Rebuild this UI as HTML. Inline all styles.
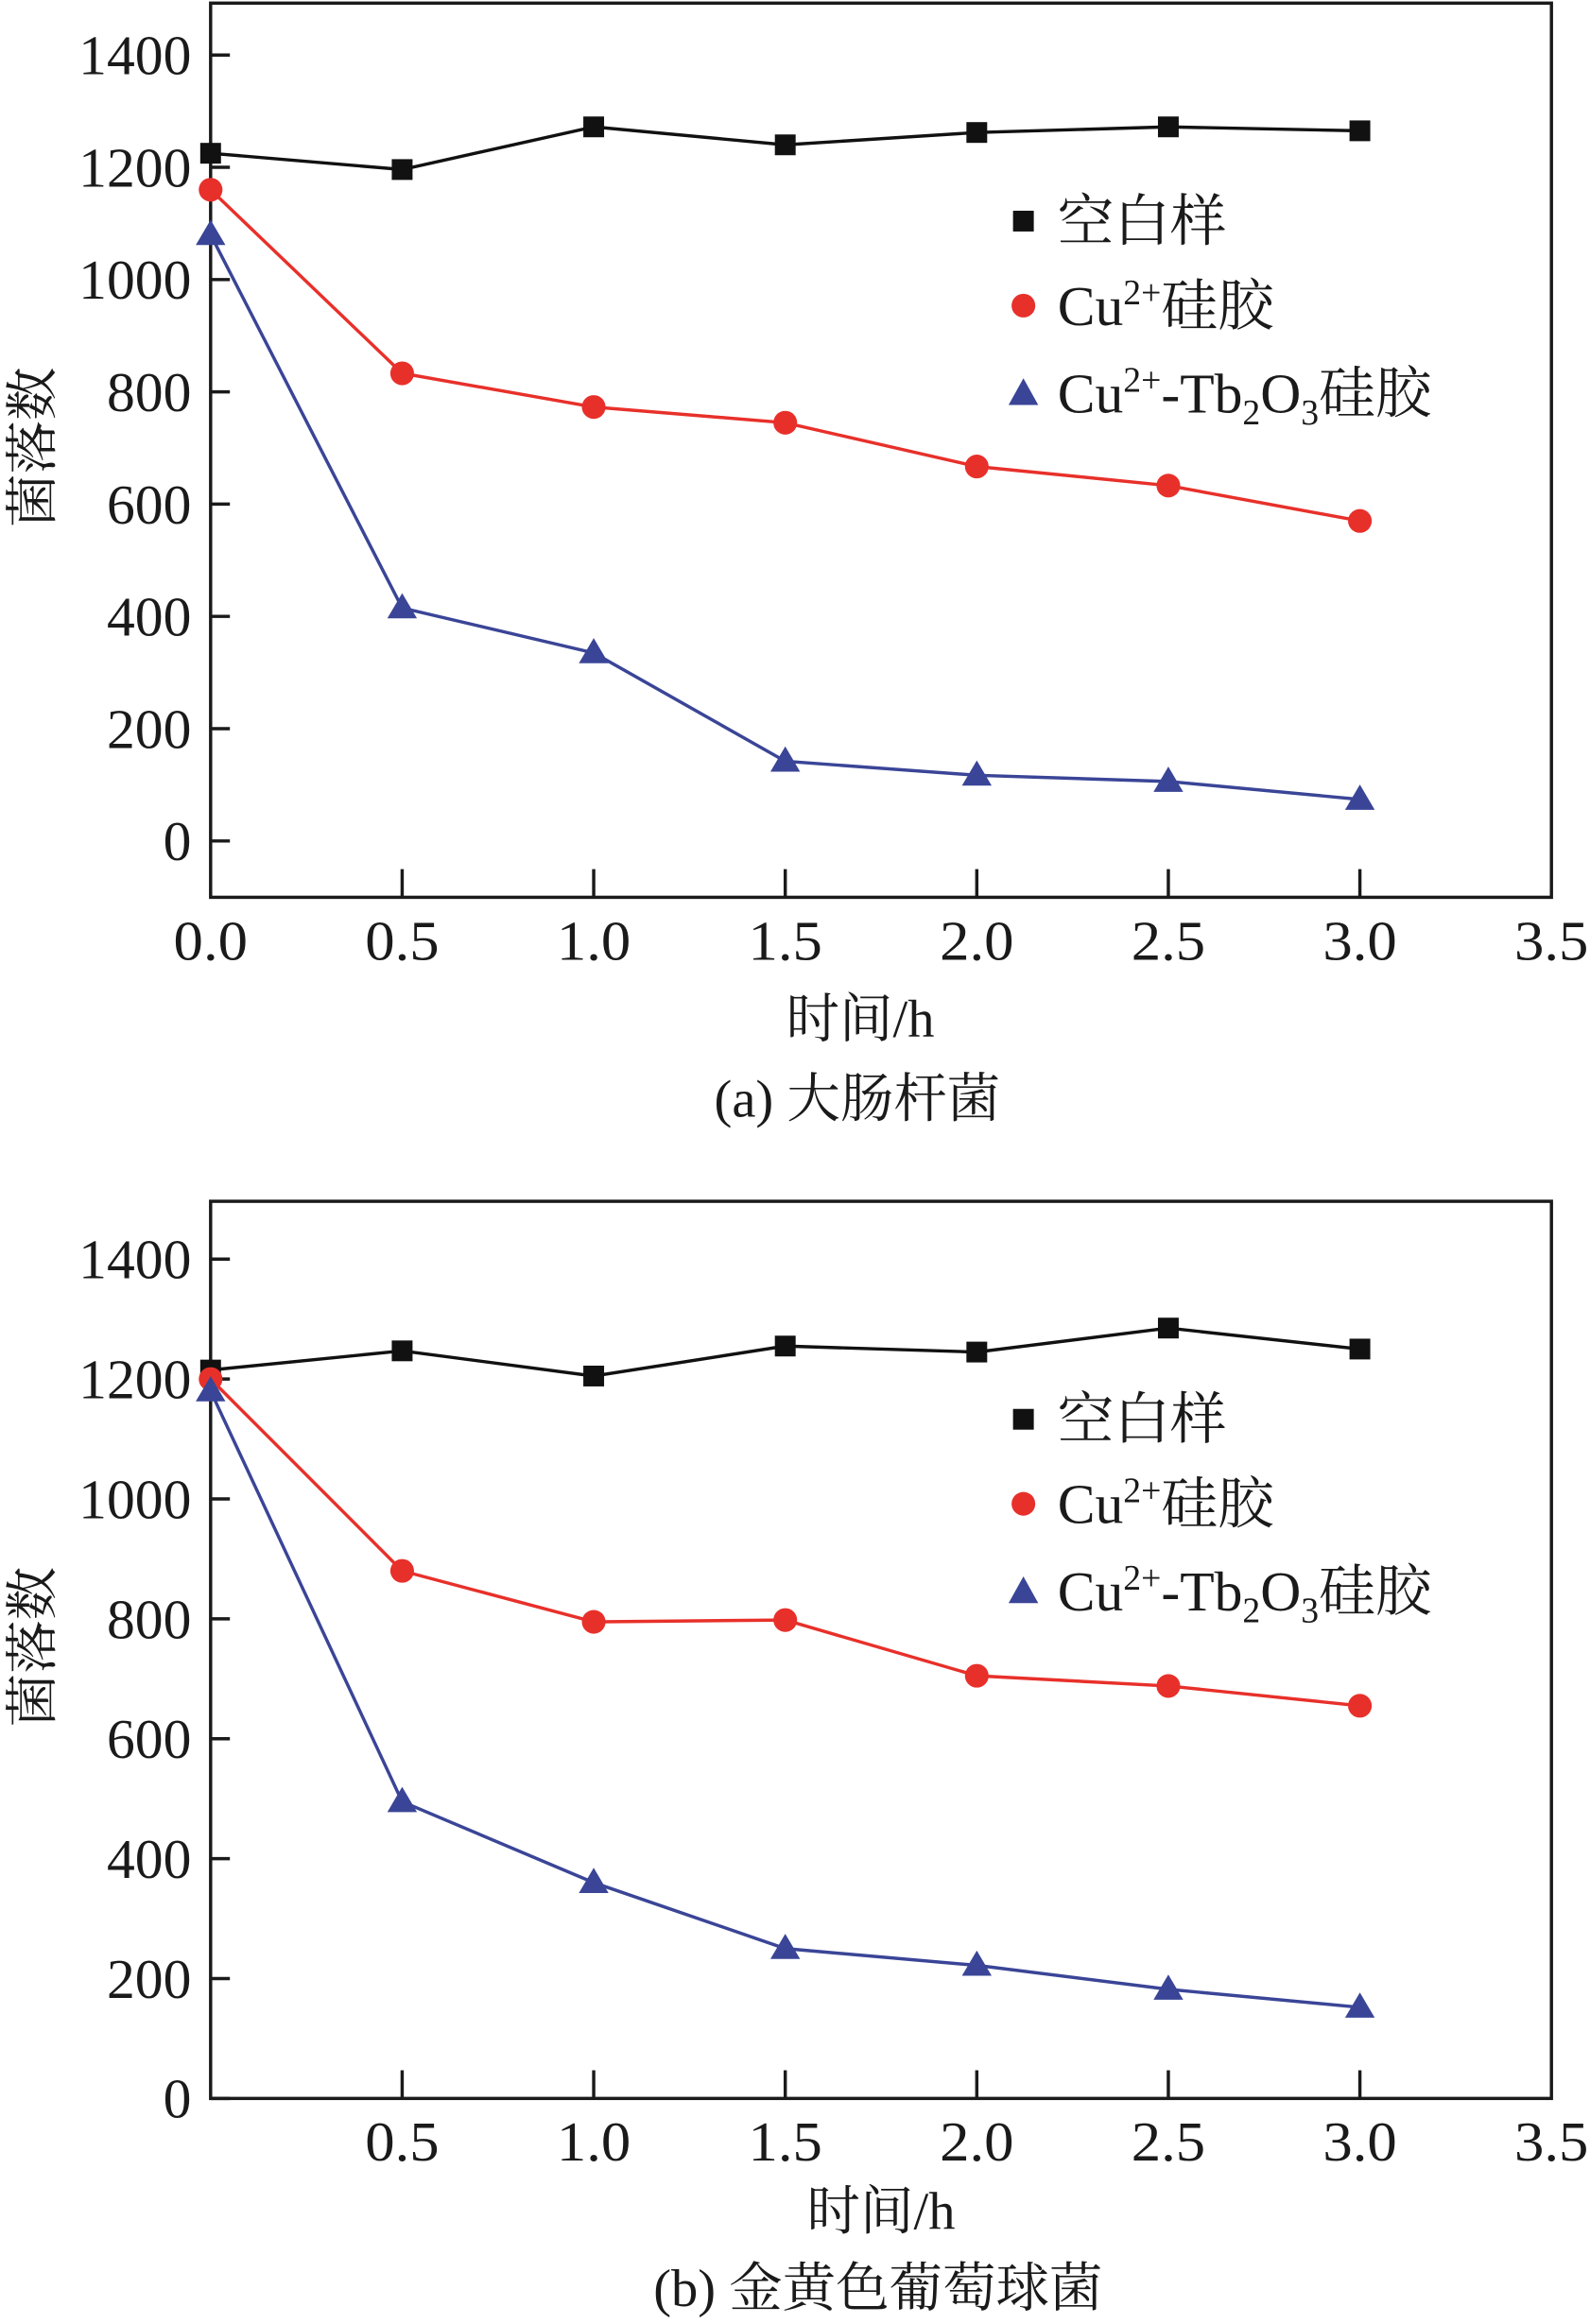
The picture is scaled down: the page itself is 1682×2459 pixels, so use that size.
<!DOCTYPE html>
<html><head><meta charset="utf-8"><style>
html,body{margin:0;padding:0;background:#fff}
svg{display:block}
text{font-family:"Liberation Serif","Noto Serif CJK SC",serif;fill:#1a1a1a}
</style></head><body>
<svg id="svg" width="1682" height="2459" viewBox="0 0 1072 1567" xmlns="http://www.w3.org/2000/svg"></svg>
<script>
const times = [0, 0.5, 1.0, 1.5, 2.0, 2.5, 3.0];
const xTicksA = ["0.0","0.5","1.0","1.5","2.0","2.5","3.0","3.5"];
const xTicksB = ["","0.5","1.0","1.5","2.0","2.5","3.0","3.5"];
const yTicks = [0,200,400,600,800,1000,1200,1400];
const blankA = [1225,1196,1272,1240,1262,1272,1265];
const cuA = [1160,833,773,745,667,633,570];
const tbA = [1080,415,335,142,117,106,74];
const blankB = [1215,1247,1205,1255,1245,1285,1250];
const cuB = [1200,880,795,798,705,688,655];
const tbB = [1180,495,360,250,222,182,152];

const NS="http://www.w3.org/2000/svg";
const svg=document.getElementById('svg');
function mk(tag,attrs,parent,txt){const e=document.createElementNS(NS,tag);for(const k in attrs)e.setAttribute(k,attrs[k]);if(txt!==undefined)e.textContent=txt;(parent||svg).appendChild(e);return e;}

function chart(id,top,bottom,y0,y1400,xTicks,blank,cu,tb,cap,capOff,titleOff){
  const g=mk('g',{});
  
  
  const L=142,R=1046;
  const xs=v=>L+(R-L)*v/3.5;
  const ys=v=>y0+(y1400-y0)*v/1400;
  const box=mk('rect',{x:L,y:top,width:R-L,height:bottom-top,fill:'none',stroke:'#1a1a1a','stroke-width':2.2},g);
  
  
  yTicks.forEach(v=>{
    mk('line',{x1:L,x2:L+13,y1:ys(v),y2:ys(v),stroke:'#1a1a1a','stroke-width':2.2},g);
    const t=mk('text',{x:L-13,y:ys(v)+13,'text-anchor':'end','font-size':38,'textLength':String(v).length*19,'lengthAdjust':'spacingAndGlyphs'},g,String(v));
    
    
  });
  xTicks.forEach((s,i)=>{
    const v=i*0.5;
    if(i>0&&i<7) mk('line',{x1:xs(v),x2:xs(v),y1:bottom,y2:bottom-19,stroke:'#1a1a1a','stroke-width':2.2},g);
    if(s){const t=mk('text',{x:xs(v),y:bottom+42,'text-anchor':'middle','font-size':38,'textLength':50,'lengthAdjust':'spacingAndGlyphs'},g,s);
    
    }
  });
  const yl=mk('text',{transform:`translate(34,${(top+bottom)/2-2}) rotate(-90)`,'text-anchor':'middle','font-size':36},g,'菌落数');
  
  
  const xl=mk('text',{x:(id==='a'?580:594),y:bottom+titleOff,'text-anchor':'middle','font-size':36},g,'时间/h');
  
  
  const c=mk('text',{x:(id==='a'?578:592),y:bottom+capOff,'text-anchor':'middle','font-size':36},g,cap);
  
  
  const series=[[blank,'#111','sq','blank'],[cu,'#e8302a','ci','cu'],[tb,'#3a4597','tr','tb']];
  series.forEach(([d,col,m,nm])=>{
    const pts=d.map((v,i)=>xs(times[i])+','+ys(v)).join(' ');
    const pl=mk('polyline',{points:pts,fill:'none',stroke:col,'stroke-width':2.2},g);
    
    
    d.forEach((v,i)=>{
      const x=xs(times[i]),y=ys(v);let e;
      if(m==='sq')e=mk('rect',{x:x-7,y:y-7,width:14,height:14,fill:col},g);
      else if(m==='ci')e=mk('circle',{cx:x,cy:y,r:8,fill:col},g);
      else e=mk('polygon',{points:`${x},${y-10} ${x-10},${y+7} ${x+10},${y+7}`,fill:col},g);
      
      
    });
  });
  const ly=top+147;
  const lg=mk('g',{},g);
  
  
  mk('rect',{x:683,y:ly-7,width:14,height:14,fill:'#111'},lg);
  mk('text',{x:713,y:ly+13,'font-size':38},lg,'空白样');
  mk('circle',{cx:690,cy:ly+57,r:8,fill:'#e8302a'},lg);
  const t2=mk('text',{x:713,y:ly+70,'font-size':38},lg);
  t2.innerHTML='Cu<tspan font-size="24" dy="-14">2+</tspan><tspan dy="14">硅胶</tspan>';
  mk('polygon',{points:`690,${ly+106} 680,${ly+124} 700,${ly+124}`,fill:'#3a4597'},lg);
  const t3=mk('text',{x:713,y:ly+129,'font-size':38},lg);
  t3.innerHTML='Cu<tspan font-size="24" dy="-14">2+</tspan><tspan dy="14">-Tb</tspan><tspan font-size="24" dy="8">2</tspan><tspan dy="-8">O</tspan><tspan font-size="24" dy="8">3</tspan><tspan dy="-8">硅胶</tspan>';
}
chart('a',2,605,567,37,xTicksA,blankA,cuA,tbA,'(a) 大肠杆菌',148,94);
chart('b',810,1415,1415,849,xTicksB,blankB,cuB,tbB,'(b) 金黄色葡萄球菌',140,88);
</script>
</body></html>
